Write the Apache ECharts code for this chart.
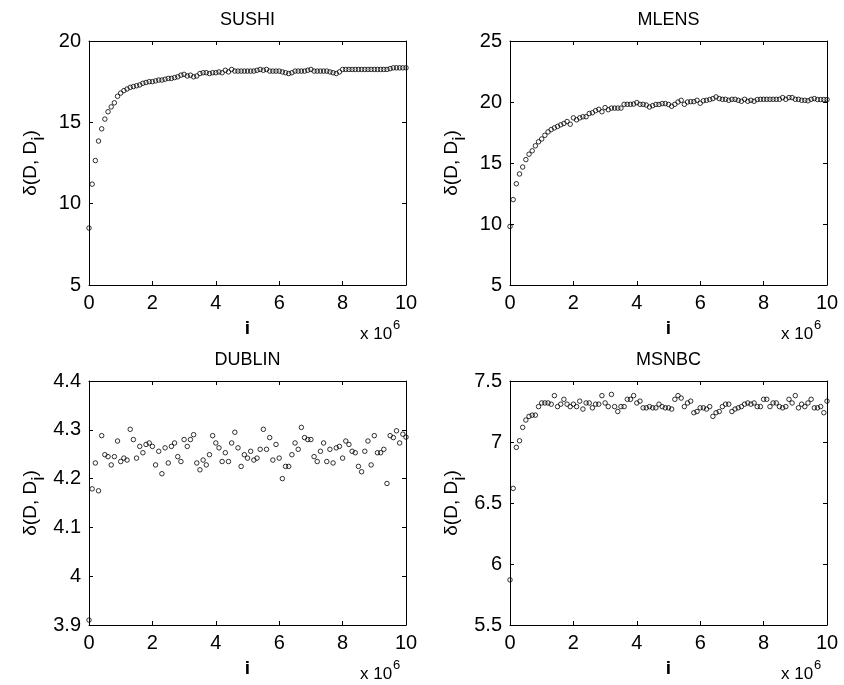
<!DOCTYPE html>
<html><head><meta charset="utf-8">
<script src="https://cdn.jsdelivr.net/npm/echarts@6/dist/echarts.min.js"></script>
<style>html,body{margin:0;padding:0;background:#fff}#c{width:844px;height:685px}</style>
</head><body><div id="c"></div>
<script>
// sample positions i (in units of 10^6)
const xs = [0,0.1,0.2,0.3,0.4,0.5,0.6,0.7,0.8,0.9,1,1.1,1.2,1.3,1.4,1.5,1.6,1.7,1.8,1.9,2,2.1,2.2,2.3,2.4,2.5,2.6,2.7,2.8,2.9,3,3.1,3.2,3.3,3.4,3.5,3.6,3.7,3.8,3.9,4,4.1,4.2,4.3,4.4,4.5,4.6,4.7,4.8,4.9,5,5.1,5.2,5.3,5.4,5.5,5.6,5.7,5.8,5.9,6,6.1,6.2,6.3,6.4,6.5,6.6,6.7,6.8,6.9,7,7.1,7.2,7.3,7.4,7.5,7.6,7.7,7.8,7.9,8,8.1,8.2,8.3,8.4,8.5,8.6,8.7,8.8,8.9,9,9.1,9.2,9.3,9.4,9.5,9.6,9.7,9.8,9.9,10];

const sushi = [8.5,11.2,12.65,13.85,14.6,15.2,15.65,15.95,16.2,16.6,
16.8,16.95,17.05,17.15,17.2,17.25,17.3,17.4,17.45,17.5,
17.5,17.55,17.6,17.6,17.65,17.7,17.7,17.75,17.8,17.9,
17.95,17.85,17.9,17.8,17.85,18.0,18.05,18.05,18.0,18.05,
18.05,18.1,18.05,18.2,18.1,18.25,18.15,18.15,18.15,18.15,
18.15,18.15,18.15,18.2,18.25,18.2,18.25,18.15,18.15,18.15,
18.15,18.1,18.05,18.0,18.05,18.15,18.15,18.15,18.15,18.2,
18.25,18.15,18.15,18.15,18.15,18.15,18.1,18.05,18.0,18.1,
18.25,18.25,18.25,18.25,18.25,18.25,18.25,18.25,18.25,18.25,
18.25,18.25,18.25,18.25,18.25,18.3,18.35,18.35,18.35,18.35,18.35];

const mlens = [9.8,
12.0,13.3,14.1,14.67,15.28,15.72,16.0,16.41,16.74,16.97,
17.27,17.55,17.74,17.88,18.0,18.13,18.24,18.4,18.18,18.7,
18.54,18.7,18.79,18.79,19.06,19.12,19.29,19.4,19.2,19.54,
19.37,19.5,19.5,19.5,19.5,19.81,19.81,19.81,19.83,19.95,
19.81,19.81,19.75,19.59,19.7,19.8,19.8,19.87,19.87,
19.8,19.65,19.81,20.0,20.14,19.81,20.0,20.03,20.03,20.14,
19.9,20.1,20.14,20.2,20.28,20.42,20.28,20.22,20.22,20.14,
20.22,20.22,20.14,20.06,20.22,20.06,20.14,20.06,20.2,20.22,
20.22,20.22,20.22,20.22,20.22,20.22,20.36,20.22,20.36,20.36,
20.22,20.22,20.14,20.14,20.1,20.22,20.28,20.2,20.2,20.2,20.2];

const dublin = [3.91,
4.179,4.232,4.175,4.288,4.249,4.245,4.228,4.245,4.277,4.235,
4.242,4.238,4.301,4.28,4.242,4.266,4.253,4.27,4.273,4.266,
4.228,4.256,4.21,4.263,4.232,4.266,4.273,4.245,4.235,4.28,
4.266,4.28,4.29,4.232,4.218,4.238,4.228,4.249,4.288,4.273,
4.263,4.235,4.253,4.235,4.273,4.295,4.263,4.225,4.249,4.242,
4.256,4.238,4.242,4.26,4.301,4.26,4.284,4.238,4.27,4.242,
4.2,4.225,4.225,4.249,4.273,4.26,4.305,4.284,4.28,4.28,
4.245,4.235,4.256,4.273,4.235,4.26,4.232,4.263,4.266,4.242,
4.277,4.27,4.256,4.253,4.225,4.214,4.256,4.277,4.228,4.288,
4.253,4.253,4.26,4.19,4.288,4.284,4.298,4.273,4.291,4.285];

const msnbc = [5.87,6.62,
6.956,7.01,7.12,7.18,7.21,7.22,7.22,7.29,7.32,7.32,
7.32,7.31,7.38,7.29,7.31,7.35,7.31,7.29,7.31,7.29,
7.335,7.27,7.32,7.32,7.28,7.31,7.31,7.38,7.32,7.29,
7.39,7.29,7.25,7.29,7.29,7.35,7.35,7.38,7.32,7.335,
7.28,7.28,7.29,7.28,7.28,7.31,7.29,7.28,7.28,
7.27,7.35,7.38,7.36,7.29,7.32,7.335,7.24,7.25,7.28,
7.28,7.27,7.29,7.21,7.24,7.25,7.29,7.31,7.31,7.25,
7.27,7.28,7.29,7.31,7.32,7.31,7.32,7.29,7.29,7.35,
7.35,7.29,7.32,7.32,7.29,7.28,7.29,7.35,7.32,7.38,
7.28,7.31,7.29,7.32,7.35,7.28,7.28,7.29,7.24,7.335];

const titles = ['SUSHI','MLENS','DUBLIN','MSNBC'];
const yRanges = [[5,20,5],[5,25,5],[3.9,4.4,0.1],[5.5,7.5,0.5]];
const xRange = [0,10,2];
const seriesVals = [sushi, mlens, dublin, msnbc];

const FONT = '"Liberation Sans", Arial, Helvetica, sans-serif';
const grids = [
  {left:89, top:41, width:317, height:244},
  {left:510, top:41, width:317, height:244},
  {left:89, top:381, width:317, height:244},
  {left:510, top:381, width:317, height:244}
];

const xAxes = [], yAxes = [], series = [], graphic = [];
grids.forEach((g, gi) => {
  const base = {gridIndex:gi, type:'value', min:xRange[0], max:xRange[1], interval:xRange[2],
    splitLine:{show:false},
    axisLine:{show:true, onZero:false, lineStyle:{color:'#000', width:1}},
    axisTick:{show:true, inside:true, length:4, lineStyle:{color:'#000'}}};
  xAxes.push(Object.assign({}, base, {position:'bottom',
    axisLabel:{show:true, color:'#000', fontSize:20, fontFamily:FONT, margin:8}}));
  xAxes.push(Object.assign({}, base, {position:'top', axisLabel:{show:false}}));
  const yr = yRanges[gi];
  const ybase = {gridIndex:gi, type:'value', min:yr[0], max:yr[1], interval:yr[2],
    splitLine:{show:false},
    axisLine:{show:true, onZero:false, lineStyle:{color:'#000', width:1}},
    axisTick:{show:true, inside:true, length:4, lineStyle:{color:'#000'}}};
  yAxes.push(Object.assign({}, ybase, {position:'left',
    axisLabel:{show:true, color:'#000', fontSize:20, fontFamily:FONT, margin:8}}));
  yAxes.push(Object.assign({}, ybase, {position:'right', axisLabel:{show:false}}));
  series.push({type:'scatter', xAxisIndex:gi*2, yAxisIndex:gi*2,
    data: xs.map((x,k)=>[x, seriesVals[gi][k]]),
    symbol:'circle', symbolSize:4.5, silent:true, animation:false,
    itemStyle:{color:'rgba(255,255,255,0)', borderColor:'#000', borderWidth:1}});

  const cx = g.left + g.width/2;
  graphic.push({type:'text', x:cx, y:g.top-21, style:{text:titles[gi], font:'18px '+FONT, fill:'#000', align:'center', verticalAlign:'middle'}});
  graphic.push({type:'text', x:cx, y:g.top+g.height+44, style:{text:'i', font:'bold 19px '+FONT, fill:'#000', align:'center', verticalAlign:'middle'}});
  graphic.push({type:'text', x:g.left+g.width-46, y:g.top+g.height+49, style:{text:'x 10', font:'17px '+FONT, fill:'#000', align:'left', verticalAlign:'middle'}});
  graphic.push({type:'text', x:g.left+g.width-13, y:g.top+g.height+40, style:{text:'6', font:'13px '+FONT, fill:'#000', align:'left', verticalAlign:'middle'}});
  graphic.push({type:'text', x:g.left-57, y:g.top+g.height/2, rotation:Math.PI/2,
    style:{text:'{a|δ(D, D}{s|i}{a|)}', fill:'#000', align:'center', verticalAlign:'middle',
      rich:{a:{fontSize:19, fontFamily:FONT, lineHeight:22, verticalAlign:'top'},
            s:{fontSize:19, fontFamily:FONT, lineHeight:22, padding:[8,0,0,0], verticalAlign:'top'}}}});
});

const chart = echarts.init(document.getElementById('c'), null, {renderer:'canvas'});
chart.setOption({animation:false, backgroundColor:'#fff', grid:grids, xAxis:xAxes, yAxis:yAxes, series:series, graphic:graphic});
</script></body></html>
